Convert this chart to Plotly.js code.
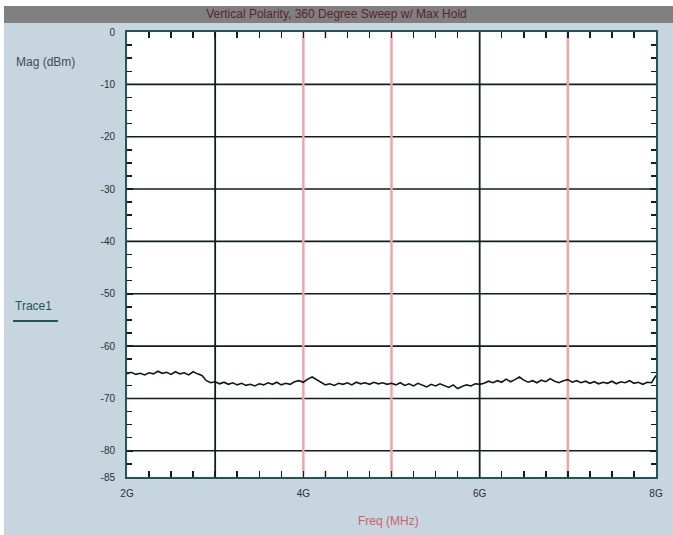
<!DOCTYPE html>
<html>
<head>
<meta charset="utf-8">
<script src="https://cdn.plot.ly/plotly-3.0.1.min.js"></script>
<style>html,body{margin:0;padding:0;background:#fff;}#chart{width:673px;height:535px;}</style>
</head>
<body>
<div id="chart"></div>
<script>
// ---- data ----
const chartTitle = "Vertical Polarity, 360 Degree Sweep w/ Max Hold";
const traceName = "Trace1";
const xAxisTitle = "Freq (MHz)";
const yAxisTitle = "Mag (dBm)";

const freqGHz = [
 2.00,2.05,2.10,2.15,2.20,2.25,2.30,2.35,2.40,2.45,2.50,2.55,2.60,2.65,2.70,2.75,2.80,2.85,2.90,2.95,
 3.00,3.05,3.10,3.15,3.20,3.25,3.30,3.35,3.40,3.45,3.50,3.55,3.60,3.65,3.70,3.75,3.80,3.85,3.90,3.95,
 4.00,4.05,4.10,4.15,4.20,4.25,4.30,4.35,4.40,4.45,4.50,4.55,4.60,4.65,4.70,4.75,4.80,4.85,4.90,4.95,
 5.00,5.05,5.10,5.15,5.20,5.25,5.30,5.35,5.40,5.45,5.50,5.55,5.60,5.65,5.70,5.75,5.80,5.85,5.90,5.95,
 6.00,6.05,6.10,6.15,6.20,6.25,6.30,6.35,6.40,6.45,6.50,6.55,6.60,6.65,6.70,6.75,6.80,6.85,6.90,6.95,
 7.00,7.05,7.10,7.15,7.20,7.25,7.30,7.35,7.40,7.45,7.50,7.55,7.60,7.65,7.70,7.75,7.80,7.85,7.90,7.95,
 8.00
];
const magDBm = [
 -65.3,-65.0,-65.4,-65.2,-65.5,-65.1,-65.3,-64.8,-65.2,-65.0,-65.4,-64.9,-65.3,-65.1,-65.5,-64.9,-65.3,-65.6,-66.6,-67.0,
 -66.8,-67.2,-66.9,-67.3,-67.0,-67.4,-67.1,-67.5,-67.3,-67.6,-67.2,-67.4,-67.0,-67.3,-66.9,-67.4,-67.1,-67.3,-66.8,-66.6,
 -66.9,-66.3,-65.9,-66.4,-66.9,-67.4,-67.2,-67.5,-67.1,-67.3,-67.0,-67.4,-66.9,-67.2,-67.0,-67.3,-66.9,-67.2,-67.0,-67.3,
 -67.1,-67.4,-67.0,-67.5,-67.2,-67.6,-67.1,-67.4,-67.8,-67.3,-67.6,-67.2,-67.5,-67.9,-67.4,-68.1,-67.7,-67.4,-67.6,-67.2,
 -67.3,-67.1,-66.7,-67.0,-66.6,-66.9,-66.3,-66.8,-66.4,-65.9,-66.5,-66.9,-66.6,-67.0,-66.5,-66.8,-66.2,-66.7,-67.0,-66.6,
 -66.4,-66.9,-66.6,-67.0,-66.7,-67.1,-66.8,-67.2,-66.9,-67.1,-66.7,-67.2,-66.8,-67.0,-66.6,-67.1,-66.9,-67.3,-66.9,-67.0,
 -65.6
];

const xTickVals = [2, 4, 6, 8];
const xTickText = ["2G", "4G", "6G", "8G"];
const yTickVals = [0, -10, -20, -30, -40, -50, -60, -70, -80, -85];
const yTickText = ["0", "-10", "-20", "-30", "-40", "-50", "-60", "-70", "-80", "-85"];

const darkGridX = [3, 6];        // black vertical grid lines
const pinkGridX = [4, 5, 7];     // pink vertical grid lines
const pinkTickX = [4.25];        // pink minor tick marks
const hGridY = [-10, -20, -30, -40, -50, -60, -70, -80];

// ---- styling ----
const axisCol = "#1f5656";
const darkLine = "#0d1f1f";
const pinkLine = "#f5a3a6";
const panelBlue = "#c7d5de";

const shapes = [];
// background panel, title bar and white plot area (paper coordinates)
shapes.push({type:"rect", xref:"paper", yref:"paper", x0:-0.2325, x1:1.05, y0:-0.15, y1:1.0584,
             fillcolor:panelBlue, line:{width:0}, layer:"below"});
shapes.push({type:"rect", xref:"paper", yref:"paper", x0:-0.2325, x1:1.05, y0:1.0202, y1:1.0584,
             fillcolor:"#808080", line:{width:0}, layer:"below"});
shapes.push({type:"rect", xref:"paper", yref:"paper", x0:0, x1:1, y0:0, y1:1,
             fillcolor:"#ffffff", line:{width:0}, layer:"below"});
// legend underline
shapes.push({type:"line", xref:"paper", yref:"paper", x0:-0.2155, x1:-0.1304, y0:0.3506, y1:0.3506,
             line:{color:axisCol, width:2}, layer:"below"});
// grid lines (data coordinates)
hGridY.forEach(v => shapes.push({type:"line", xref:"x", yref:"y", x0:2, x1:8, y0:v, y1:v,
             line:{color:darkLine, width:1.6}, layer:"below"}));
pinkGridX.forEach(v => shapes.push({type:"line", xref:"x", yref:"y", x0:v, x1:v, y0:-85, y1:0,
             line:{color:pinkLine, width:2.5}, layer:"below"}));
pinkTickX.forEach(v => {
  shapes.push({type:"line", xref:"x", yref:"y", x0:v, x1:v, y0:0, y1:-1.2, line:{color:pinkLine, width:2.5}, layer:"below"});
  shapes.push({type:"line", xref:"x", yref:"y", x0:v, x1:v, y0:-85, y1:-83.8, line:{color:pinkLine, width:2.5}, layer:"below"});
});
darkGridX.forEach(v => shapes.push({type:"line", xref:"x", yref:"y", x0:v, x1:v, y0:-85, y1:0,
             line:{color:darkLine, width:1.8}, layer:"below"}));

const trace = {
  type: "scatter", mode: "lines", name: traceName,
  x: freqGHz, y: magDBm,
  line: {color: "#0b1a1a", width: 1.6},
  showlegend: false, hoverinfo: "skip"
};

const layout = {
  width: 673, height: 535,
  margin: {l:127, r:17, t:32, b:58, pad:0},
  paper_bgcolor: "#ffffff",
  plot_bgcolor: "#ffffff",
  font: {family: "Liberation Sans, Arial, sans-serif", size: 11, color: "#2b3838"},
  showlegend: false,
  title: {text: chartTitle, x: 0.5, xref: "container", xanchor: "center",
          y: 0.974, yref: "container", yanchor: "middle",
          font: {size: 12, color: "#5a2428", family: "Liberation Sans, Arial, sans-serif"}},
  xaxis: {
    range: [2, 8], tickvals: xTickVals, ticktext: xTickText,
    showgrid: false, zeroline: false,
    showline: true, linecolor: axisCol, linewidth: 2, mirror: "ticks",
    ticks: "inside", ticklen: 6, tickwidth: 1.5, tickcolor: darkLine,
    tickfont: {size: 10, color: "#263232"}, ticklabelstandoff: 6,
    minor: {dtick: 0.25, tick0: 2, ticks: "inside", ticklen: 6, tickwidth: 1.5, tickcolor: darkLine, showgrid: false}
  },
  yaxis: {
    range: [-85, 0], tickvals: yTickVals, ticktext: yTickText,
    showgrid: false, zeroline: false,
    showline: true, linecolor: axisCol, linewidth: 2, mirror: "ticks",
    ticks: "inside", ticklen: 6, tickwidth: 1.5, tickcolor: darkLine,
    tickfont: {size: 10, color: "#263232"}, ticklabelstandoff: 8,
    minor: {dtick: 2.5, tick0: 0, ticks: "inside", ticklen: 5, tickwidth: 1.5, tickcolor: darkLine, showgrid: false}
  },
  shapes: shapes,
  annotations: [
    {text: yAxisTitle, xref:"paper", yref:"paper", x:-0.2136, y:0.9326, xanchor:"left", yanchor:"middle",
     showarrow:false, font:{size:12, color:"#3a4f52"}},
    {text: traceName, xref:"paper", yref:"paper", x:-0.2155, y:0.3843, xanchor:"left", yanchor:"middle",
     showarrow:false, font:{size:12, color:"#1f5656"}},
    {text: xAxisTitle, xref:"paper", yref:"paper", x:0.4934, y:-0.0989, xanchor:"center", yanchor:"middle",
     showarrow:false, font:{size:12, color:"#d0606a"}}
  ]
};

Plotly.newPlot("chart", [trace], layout, {displayModeBar: false, staticPlot: true});
</script>
</body>
</html>
